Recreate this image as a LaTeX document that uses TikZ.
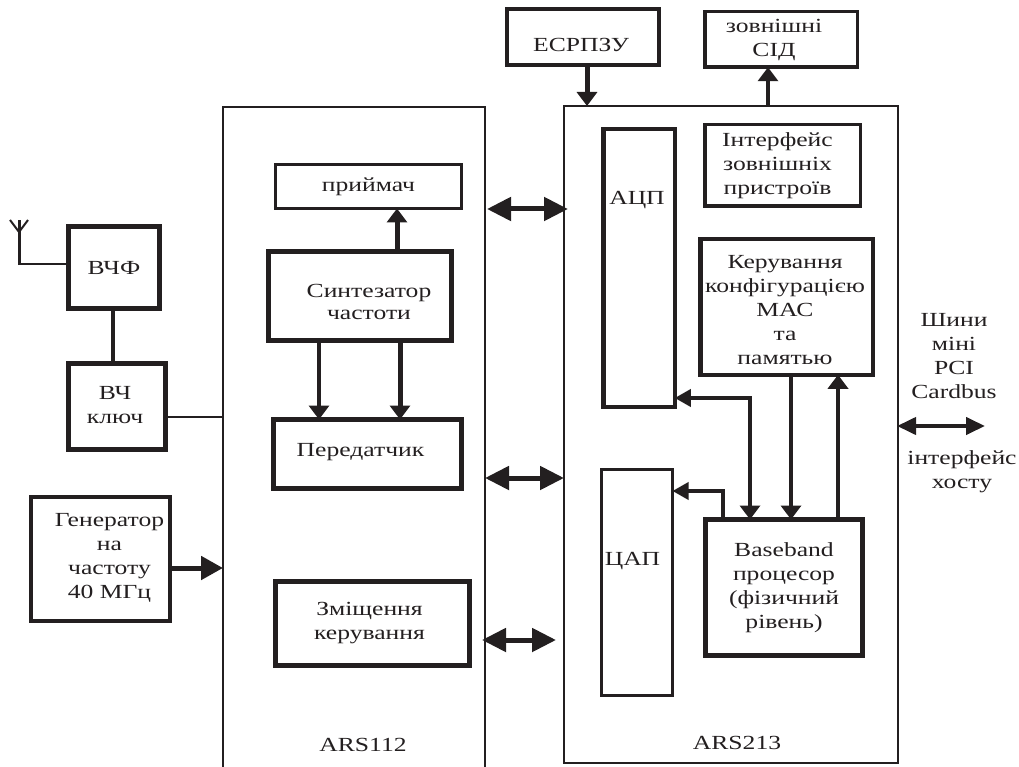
\documentclass[tikz,border=0pt]{standalone}
\usepackage{fontspec, xcolor}
\usetikzlibrary{arrows.meta}
\setmainfont{Liberation Serif}[FakeStretch=1.28]
\definecolor{ink}{HTML}{231F20}
\tikzset{
  box/.style={draw=ink, inner sep=0, outer sep=0, align=center, font=\fontsize{20}{24}\selectfont, text=ink},
  lbl/.style={inner sep=0, align=center, font=\fontsize{20}{24}\selectfont, text=ink},
  wire/.style={draw=ink, line width=#1},
  wire/.default=4,
  tip/.style={-{Triangle[length=14pt,width=20pt]}},
  tipbig/.style={-{Triangle[length=22pt,width=23pt]}},
  tipside/.style={-{Triangle[length=16pt,width=17pt]}},
  tipswide/.style={{Triangle[length=24pt,width=23pt]}-{Triangle[length=24pt,width=23pt]}},
  tipshost/.style={{Triangle[length=19pt,width=17pt]}-{Triangle[length=19pt,width=17pt]}},
  tipsmix/.style={{Triangle[length=16pt,width=17pt]}-{Triangle[length=14pt,width=20pt]}},
}
\begin{document}
\begin{tikzpicture}[x=1pt, y=-1pt]
\useasboundingbox (0,0) rectangle (1019,767);
% chips
\node[box, line width=1.5, minimum width=262, minimum height=680] (ars112) at (354,447) {};
\node[box, line width=1.5, minimum width=334, minimum height=657] (ars213) at (731,434.5) {};
% ARS213 blocks
\node[box, line width=4, minimum width=152, minimum height=56] (eeprom) at (583,37) {};
\node[box, line width=3.5, minimum width=152.5, minimum height=55.5] (leds) at (781,39.5) {};
\node[box, line width=3.5, minimum width=155.5, minimum height=81.5] (ioif) at (782.5,165.5) {};
\node[box, line width=4.5, minimum width=71.5, minimum height=278] (adc) at (639,268) {};
\node[box, line width=4.5, minimum width=172.5, minimum height=135.5] (macctl) at (786.5,307) {};
\node[box, line width=3, minimum width=71, minimum height=226] (dac) at (637,582.5) {};
\node[box, line width=5, minimum width=157, minimum height=136] (bbp) at (784,587.5) {Baseband\\процесор\\(фізичний\\рівень)};
% ARS112 blocks
\node[box, line width=3, minimum width=186, minimum height=44] (rx) at (368.5,186.5) {приймач};
\node[box, line width=5, minimum width=183, minimum height=89] (synth) at (360,296) {};
\node[box, line width=5, minimum width=188, minimum height=69] (tx) at (367.5,454) {};
\node[box, line width=5, minimum width=194, minimum height=84] (bias) at (372.5,623.5) {};
% left blocks
\node[box, line width=5, minimum width=91, minimum height=82] (rff) at (114,267.5) {ВЧФ};
\node[box, line width=5, minimum width=97, minimum height=86] (rfsw) at (117,406.5) {};
\node[box, line width=4, minimum width=139, minimum height=124] (gen) at (100.5,559) {};
\coordinate (anttop) at (19,220);
\coordinate (antfoot) at (19,264);
\coordinate (bus1) at (527,209);
\coordinate (bus2) at (527,478);
\coordinate (bus3) at (556,640);
\coordinate (hostend) at (985,426);
% connectors
\draw[wire=5, tip] ([xshift=4]eeprom.south) -- ([xshift=4]eeprom.south |- ars213.north);
\draw[wire=4, tip] ([xshift=-13]leds.south |- ars213.north) -- ([xshift=-13]leds.south);
\draw[wire=5, tipswide] ([xshift=2]ars112.east |- bus1) -- ([xshift=4]ars213.west |- bus1);
\draw[wire=5, tipswide] (ars112.east |- bus2) -- (ars213.west |- bus2);
\draw[wire=5, tipswide] ([xshift=-3]ars112.east |- bus3) -- (bus3);
\draw[wire=5, tip] ([xshift=37]synth.north) -- ([xshift=37]synth.north |- rx.south);
\draw[wire=4, tip] ([xshift=-41]synth.south) -- ([xshift=-41]synth.south |- tx.north);
\draw[wire=5, tip] ([xshift=40]synth.south) -- ([xshift=40]synth.south |- tx.north);
\draw[wire=3.5] (rff.south) ++(-1,0) -- ++(0,56);
\draw[wire=2.5] (rff.west |- antfoot) -- (antfoot);
\draw[wire=3] ([yshift=-1]antfoot) -- (anttop);
\draw[wire=2] (10,220) -- (19,232) -- (28,220);
\draw[wire=2.5] (rfsw.east |- 0,417) -- (ars112.west |- 0,417);
\draw[wire=5, tipbig] (gen.east |- 0,568) -- (ars112.west |- 0,568);
\draw[wire=3.5, tipsmix] (adc.east |- 0,398) -- (750,398) -- (bbp.north -| 750,0);
\draw[wire=3.5, tipside] (723,520) -- (723,491) -- (dac.east |- 0,491);
\draw[wire=4, tip] (macctl.south -| 791,0) -- (bbp.north -| 791,0);
\draw[wire=3.5, tip] (bbp.north -| 838,0) -- (macctl.south -| 838,0);
\draw[wire=4, tipshost] ([xshift=-1]ars213.east |- hostend) -- (hostend);
%Text
\node[lbl] (eepromtext) at (581,45) {ЕСРПЗУ};
\node[lbl] (ledtext) at (774,40) {зовнішні\\СІД};
\node[lbl] (ioiftext) at (777.5,166) {Інтерфейс\\зовнішніх\\пристроїв};
\node[lbl] (adctext) at (637,200) {АЦП};
\node[lbl] (dactext) at (632.5,561) {ЦАП};
\node[lbl] (mactext) at (785,310) {Керування\\конфігурацією\\МАС\\та\\памятью};
\node[lbl] (synthtext) at (369,302) {Синтезатор\\[-2pt]частоти};
\node[lbl] (txtext) at (360.5,452) {Передатчик};
\node[lbl] (biastext) at (369.5,623) {Зміщення\\керування};
\node[lbl] (rfswtext) at (115,405) {ВЧ\\ключ};
\node[lbl] (gentext) at (109.5,558) {Генератор\\на\\частоту\\40 МГц};
\node[lbl] (ars112text) at (363,745) {ARS112};
\node[lbl] (ars213text) at (737,743) {ARS213};
\node[lbl] (bustext) at (954,356.5) {Шини\\міні\\PCI\\Cardbus};
\node[lbl] (hosttext) at (962,471.5) {інтерфейс\\хосту};
\end{tikzpicture}
\end{document}
